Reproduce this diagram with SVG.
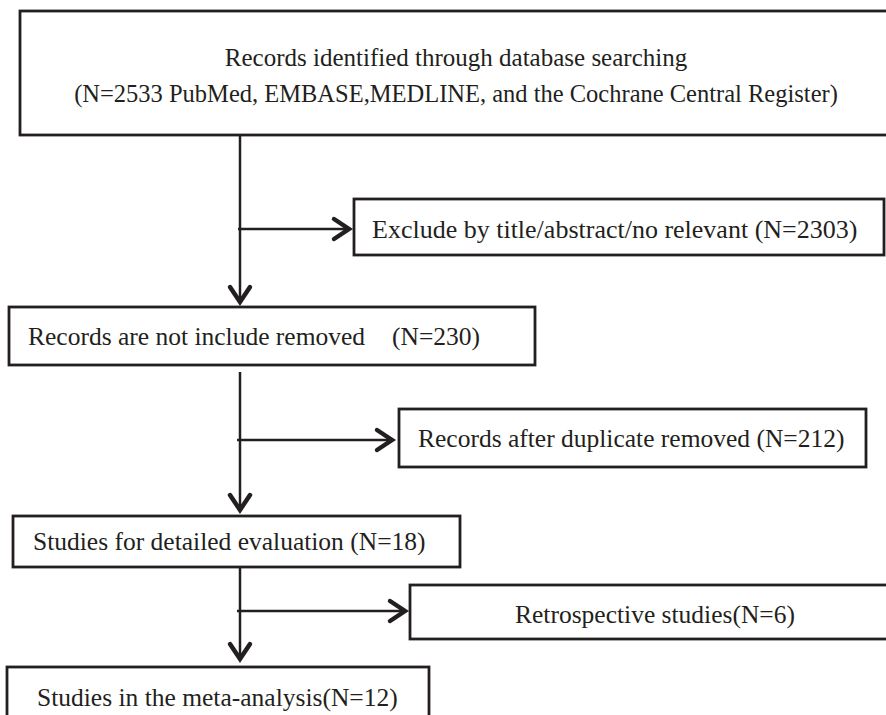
<svg xmlns="http://www.w3.org/2000/svg" width="886" height="715" viewBox="0 0 886 715">
<style>
.box{fill:#fff;stroke:#231f20;stroke-width:2.8}
.t{font-family:"Liberation Serif","Times New Roman",serif;font-size:25.5px;fill:#231f20}
.c{text-anchor:middle}
.ln{fill:none;stroke:#231f20;stroke-width:2.5;marker-end:url(#ah)}
</style>
<defs>
<marker id="ah" markerUnits="userSpaceOnUse" viewBox="-22 -16 26 32" refX="0" refY="0" markerWidth="26" markerHeight="32" orient="auto" overflow="visible">
<path d="M-15,-10 L0,0 L-15,10" fill="none" stroke="#231f20" stroke-width="4.5" stroke-linecap="round" stroke-linejoin="miter"/>
</marker>
</defs>
<rect width="886" height="715" fill="#fff"/>
<g id="connectors">
<line class="ln" x1="240" y1="136" x2="240" y2="302"/>
<line class="ln" x1="238" y1="229" x2="349" y2="229"/>
<line class="ln" x1="240" y1="372" x2="240" y2="510"/>
<line class="ln" x1="237" y1="440" x2="392" y2="440"/>
<line class="ln" x1="240" y1="567" x2="240" y2="659"/>
<line class="ln" x1="237" y1="611" x2="405" y2="611"/>
</g>
<g id="n1">
<rect class="box" x="20" y="11" width="880" height="124"/>
<text class="t c" x="456" y="66" style="font-size:25px">Records identified through database searching</text>
<text class="t c" x="456" y="102" style="font-size:24.5px">(N=2533 PubMed, EMBASE,MEDLINE, and the Cochrane Central Register)</text>
</g>
<g id="n2">
<rect class="box" x="354" y="199" width="530" height="56"/>
<text class="t" x="372" y="238" style="font-size:26px">Exclude by title/abstract/no relevant (N=2303)</text>
</g>
<g id="n3">
<rect class="box" x="9" y="307" width="526" height="58"/>
<text class="t" x="28" y="345">Records are not include removed<tspan x="392">(N=230)</tspan></text>
</g>
<g id="n4">
<rect class="box" x="399" y="409" width="467" height="58"/>
<text class="t" x="418" y="447">Records after duplicate removed (N=212)</text>
</g>
<g id="n5">
<rect class="box" x="13" y="516" width="447" height="51"/>
<text class="t" x="33" y="550">Studies for detailed evaluation (N=18)</text>
</g>
<g id="n6">
<rect class="box" x="410" y="585" width="490" height="54"/>
<text class="t" x="515" y="623">Retrospective studies(N=6)</text>
</g>
<g id="n7">
<rect class="box" x="7" y="667" width="422" height="70"/>
<text class="t" x="37" y="706">Studies in the meta-analysis(N=12)</text>
</g>
</svg>
